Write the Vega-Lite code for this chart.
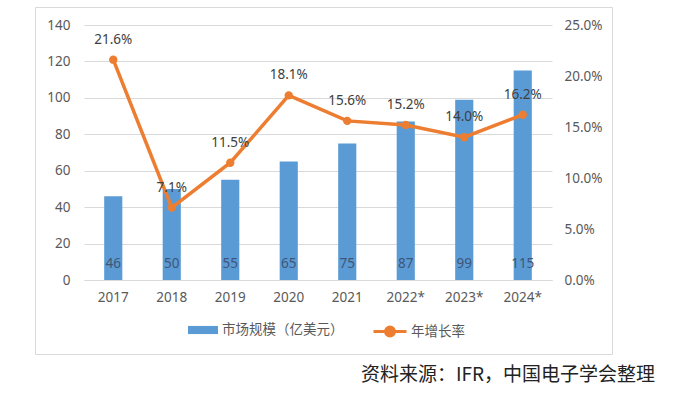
{
  "$schema": "https://vega.github.io/schema/vega-lite/v6.json",
  "width": 577,
  "height": 347,
  "autosize": {"type": "none"},
  "padding": {"left": 35, "top": 7, "right": 85, "bottom": 47},
  "background": "white",
  "config": {
    "view": {"stroke": "#d9d9d9", "strokeWidth": 1},
    "font": "Noto Sans CJK SC",
    "axis": {"labelFont": "Noto Sans", "labelColor": "#595959", "labelFontSize": 13.5, "ticks": false, "title": null},
    "legend": {"labelFont": "Noto Sans CJK SC", "labelColor": "#595959", "labelFontSize": 13.5}
  },
  "title": {
    "text": "资料来源：IFR，中国电子学会整理",
    "orient": "bottom",
    "anchor": "end",
    "frame": "group",
    "offset": 12,
    "dx": 43,
    "font": "Noto Sans CJK SC",
    "fontSize": 19,
    "fontWeight": "normal",
    "color": "#222222"
  },
  "data": {
    "values": [
      {"year": "2017", "size": 46, "growth": 0.216, "glabel": "21.6%"},
      {"year": "2018", "size": 50, "growth": 0.071, "glabel": "7.1%"},
      {"year": "2019", "size": 55, "growth": 0.115, "glabel": "11.5%"},
      {"year": "2020", "size": 65, "growth": 0.181, "glabel": "18.1%"},
      {"year": "2021", "size": 75, "growth": 0.156, "glabel": "15.6%"},
      {"year": "2022*", "size": 87, "growth": 0.152, "glabel": "15.2%"},
      {"year": "2023*", "size": 99, "growth": 0.140, "glabel": "14.0%"},
      {"year": "2024*", "size": 115, "growth": 0.162, "glabel": "16.2%"}
    ]
  },
  "encoding": {
    "x": {
      "field": "year",
      "type": "ordinal",
      "sort": null,
      "scale": {"range": [49, 517], "paddingInner": 0.69, "paddingOuter": 0.345},
      "axis": {
        "labelAngle": 0,
        "offset": -74,
        "labelPadding": 10,
        "domainColor": "#d9d9d9",
        "grid": false
      }
    }
  },
  "layer": [
    {
      "encoding": {
        "y": {
          "field": "size",
          "type": "quantitative",
          "scale": {"domain": [0, 140], "range": [273, 18], "nice": false},
          "axis": {
            "orient": "left",
            "values": [0, 20, 40, 60, 80, 100, 120, 140],
            "offset": -49,
            "labelPadding": 14,
            "domain": false,
            "grid": true,
            "gridColor": "#d9d9d9"
          }
        }
      },
      "layer": [
        {
          "mark": {"type": "bar", "color": "#5b9bd5"},
          "encoding": {
            "color": {
              "datum": "市场规模（亿美元）",
              "scale": {"range": ["#5b9bd5"]},
              "legend": {
                "orient": "none",
                "legendX": 153,
                "legendY": 308,
                "title": null,
                "symbolType": "M-1,-0.27H1V0.27H-1Z",
                "symbolSize": 900,
                "symbolStrokeWidth": 0,
                "labelOffset": 4
              }
            }
          }
        },
        {
          "mark": {"type": "text", "dy": -16, "baseline": "middle", "font": "Noto Sans", "fontSize": 13.5, "color": "#3f5677"},
          "encoding": {
            "y": {"datum": 0},
            "text": {"field": "size", "type": "quantitative"}
          }
        }
      ]
    },
    {
      "encoding": {
        "y": {
          "field": "growth",
          "type": "quantitative",
          "scale": {"domain": [0, 0.25], "range": [273, 18], "nice": false},
          "axis": {
            "orient": "right",
            "values": [0, 0.05, 0.1, 0.15, 0.2, 0.25],
            "format": ".1%",
            "offset": -60,
            "labelPadding": 12,
            "domain": false,
            "grid": false
          }
        }
      },
      "layer": [
        {
          "mark": {"type": "line", "strokeWidth": 3.5},
          "encoding": {
            "color": {
              "datum": "年增长率",
              "scale": {"range": ["#ed7d31"]},
              "legend": {
                "orient": "none",
                "legendX": 337,
                "legendY": 306.5,
                "title": null,
                "symbolType": "M-1,0H1M0.27,0A0.27,0.27 0 1,1 -0.27,0A0.27,0.27 0 1,1 0.27,0Z",
                "symbolSize": 1089,
                "symbolStrokeWidth": 3,
                "symbolFillColor": "#ed7d31",
                "symbolStrokeColor": "#ed7d31",
                "labelOffset": 3
              }
            }
          }
        },
        {
          "mark": {"type": "point", "filled": true, "size": 70, "opacity": 1, "color": "#ed7d31"}
        },
        {
          "mark": {"type": "text", "dy": -20, "baseline": "middle", "font": "Noto Sans", "fontSize": 13.5, "color": "#404040"},
          "encoding": {
            "text": {"field": "glabel", "type": "nominal"}
          }
        }
      ]
    }
  ],
  "resolve": {"scale": {"y": "independent", "color": "independent"}}
}
